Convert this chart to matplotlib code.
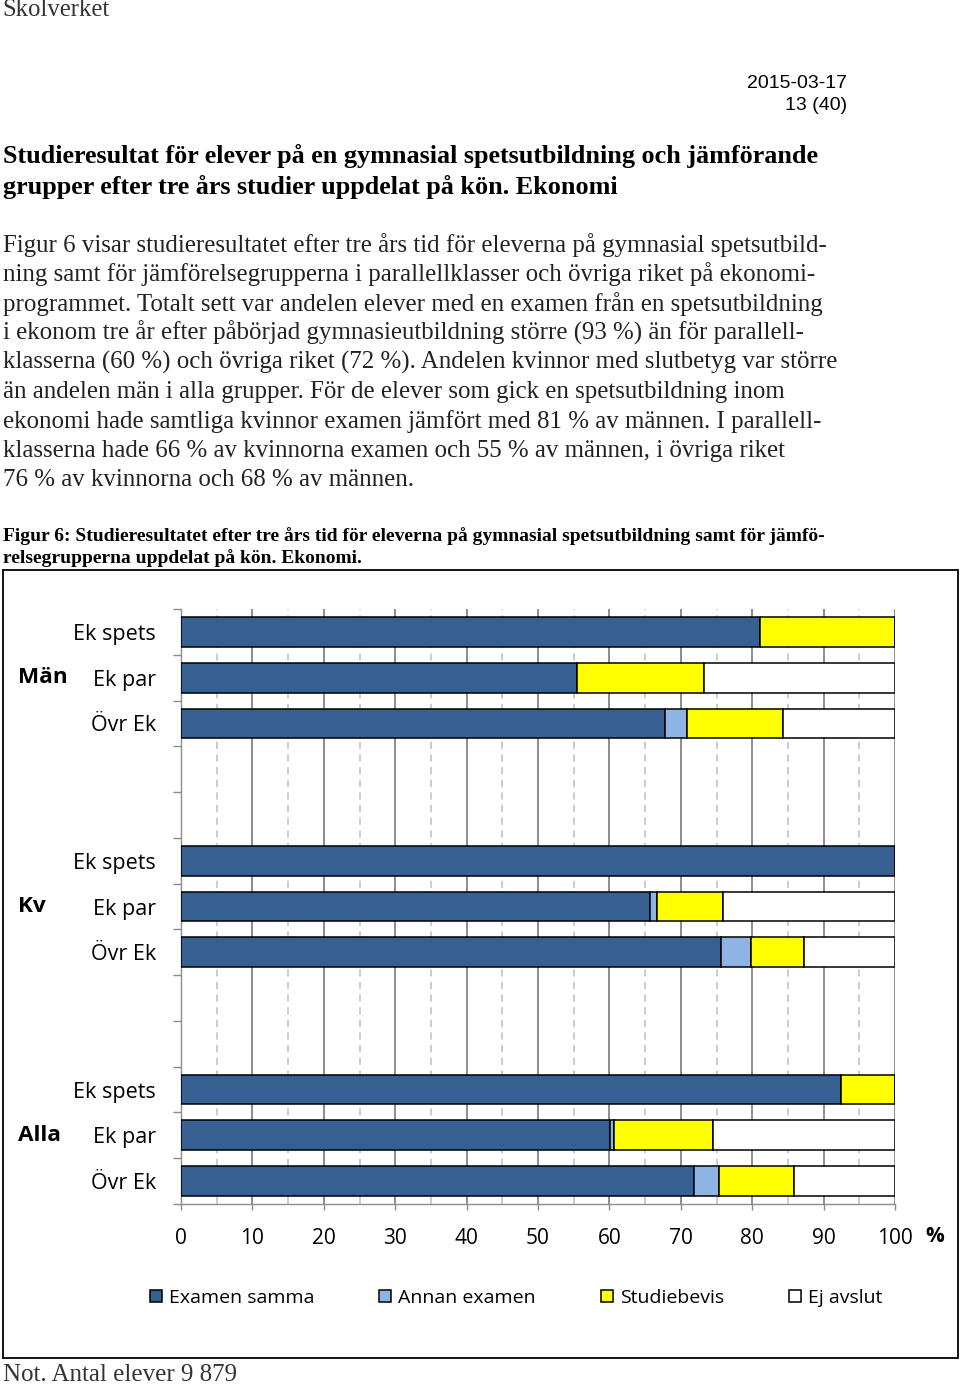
import matplotlib
matplotlib.use("Agg")
import matplotlib.pyplot as plt
from matplotlib.patches import Rectangle
from matplotlib.transforms import blended_transform_factory

# data (percent of students)
groups = ["Män", "Kv", "Alla"]
categories = ["Ek spets", "Ek par", "Övr Ek"]
series = ["Examen samma", "Annan examen", "Studiebevis", "Ej avslut"]
examen_samma = [81.1, 55.5, 67.8, 100.0, 65.7, 75.6, 92.5, 60.1, 71.8]
annan_examen = [0.0, 0.0, 3.1, 0.0, 1.0, 4.2, 0.0, 0.5, 3.6]
studiebevis = [18.9, 17.7, 13.4, 0.0, 9.2, 7.5, 7.5, 13.9, 10.5]
ej_avslut = [0.0, 26.8, 15.7, 0.0, 24.1, 12.7, 0.0, 25.5, 14.1]
colors = ["#376092", "#8EB4E3", "#FFFF00", "#FFFFFF"]

W, H = 960, 1386
fig = plt.figure(figsize=(W / 100, H / 100), dpi=100)

def fy(py):
    return 1 - py / H

def fx(px):
    return px / W

serif = ["Liberation Serif", "DejaVu Serif"]
chart_font = ["Open Sans", "DejaVu Sans"]

# page text
fig.text(fx(2), fy(10), "Skolverket", family=serif, fontsize=17.8, color="#333333", va="center")
fig.text(fx(847), fy(84), "2015-03-17", family=["Liberation Sans"], fontsize=14, ha="right", va="center")
fig.text(fx(847), fy(106), "13 (40)", family=["Liberation Sans"], fontsize=14, ha="right", va="center")

title = ["Studieresultat för elever på en gymnasial spetsutbildning och jämförande",
         "grupper efter tre års studier uppdelat på kön. Ekonomi"]
for i, line in enumerate(title):
    fig.text(fx(3), fy(156 + i * 31), line, family=serif, fontsize=18.8, weight="bold", va="center")

body = ["Figur 6 visar studieresultatet efter tre års tid för eleverna på gymnasial spetsutbild-",
        "ning samt för jämförelsegrupperna i parallellklasser och övriga riket på ekonomi-",
        "programmet. Totalt sett var andelen elever med en examen från en spetsutbildning",
        "i ekonom tre år efter påbörjad gymnasieutbildning större (93 %) än för parallell-",
        "klasserna (60 %) och övriga riket (72 %). Andelen kvinnor med slutbetyg var större",
        "än andelen män i alla grupper. För de elever som gick en spetsutbildning inom",
        "ekonomi hade samtliga kvinnor examen jämfört med 81 % av männen. I parallell-",
        "klasserna hade 66 % av kvinnorna examen och 55 % av männen, i övriga riket",
        "76 % av kvinnorna och 68 % av männen."]
for i, line in enumerate(body):
    fig.text(fx(3), fy(245 + i * 29.4), line, family=serif, fontsize=17.9, color="#222222", va="center")

caption = ["Figur 6: Studieresultatet efter tre års tid för eleverna på gymnasial spetsutbildning samt för jämfö-",
           "relsegrupperna uppdelat på kön. Ekonomi."]
for i, line in enumerate(caption):
    fig.text(fx(3), fy(536 + i * 22), line, family=serif, fontsize=14, weight="bold", va="center")

fig.text(fx(3), fy(1375), "Not. Antal elever 9 879", family=serif, fontsize=18, color="#333333", va="center")

# chart frame
fig.patches.append(Rectangle((fx(3), fy(1358)), fx(955), (1358 - 570) / H, transform=fig.transFigure,
                             fill=False, edgecolor="black", lw=1.3))

# chart
ax = fig.add_axes([fx(181), fy(1204), fx(714), (1204 - 609) / H])
ypos = [g * 5 + i + 0.5 for g in range(len(groups)) for i in range(len(categories))]
left = [0.0] * len(ypos)
handles = []
for name, vals, c in zip(series, [examen_samma, annan_examen, studiebevis, ej_avslut], colors):
    b = ax.barh(ypos, vals, left=left, height=0.65, color=c, edgecolor="black", linewidth=1.1,
                label=name, zorder=3)
    handles.append(b)
    left = [l + v for l, v in zip(left, vals)]

ax.set_xlim(0, 100)
ax.set_ylim(13, 0)
ax.set_xticks(range(0, 101, 10))
ax.set_xticks(range(5, 100, 10), minor=True)
ax.set_yticks(ypos)
ax.set_yticklabels(categories * len(groups))
ax.set_yticks(range(0, 14), minor=True)
ax.grid(axis="x", which="major", color="#8c8c8c", lw=1.4, zorder=0)
ax.grid(axis="x", which="minor", color="#c8c8c8", lw=1.3, ls=(0, (4, 3)), zorder=0)
ax.tick_params(axis="y", which="major", length=0, pad=18, labelsize=15.5)
ax.tick_params(axis="y", which="minor", length=6, color="#8c8c8c", width=1)
ax.tick_params(axis="x", which="major", length=4, color="#8c8c8c", width=1, pad=13.5, labelsize=15)
ax.tick_params(axis="x", which="minor", length=0)
for lab in ax.get_xticklabels() + ax.get_yticklabels():
    lab.set_family(chart_font)
for s in ["top", "right"]:
    ax.spines[s].set_visible(False)
for s in ["left", "bottom"]:
    ax.spines[s].set_color("#8c8c8c")
    ax.spines[s].set_linewidth(1)

trans = blended_transform_factory(fig.transFigure, ax.transData)
for g, name in enumerate(groups):
    ax.text(fx(18), g * 5 + 1.5, name, transform=trans, family=chart_font, fontsize=16.2,
            weight="bold", va="center", ha="left")
fig.text(fx(935), fy(1237), "%", family=chart_font, fontsize=15, weight="bold", ha="center", va="center")

fig.legend(handles=handles, loc="center", bbox_to_anchor=(fx(516), fy(1298)), ncol=4, frameon=False,
           prop={"family": chart_font, "size": 14}, handlelength=0.62, handleheight=0.62,
           handletextpad=0.35, columnspacing=3.35)

fig.savefig("out.png", dpi=100)
